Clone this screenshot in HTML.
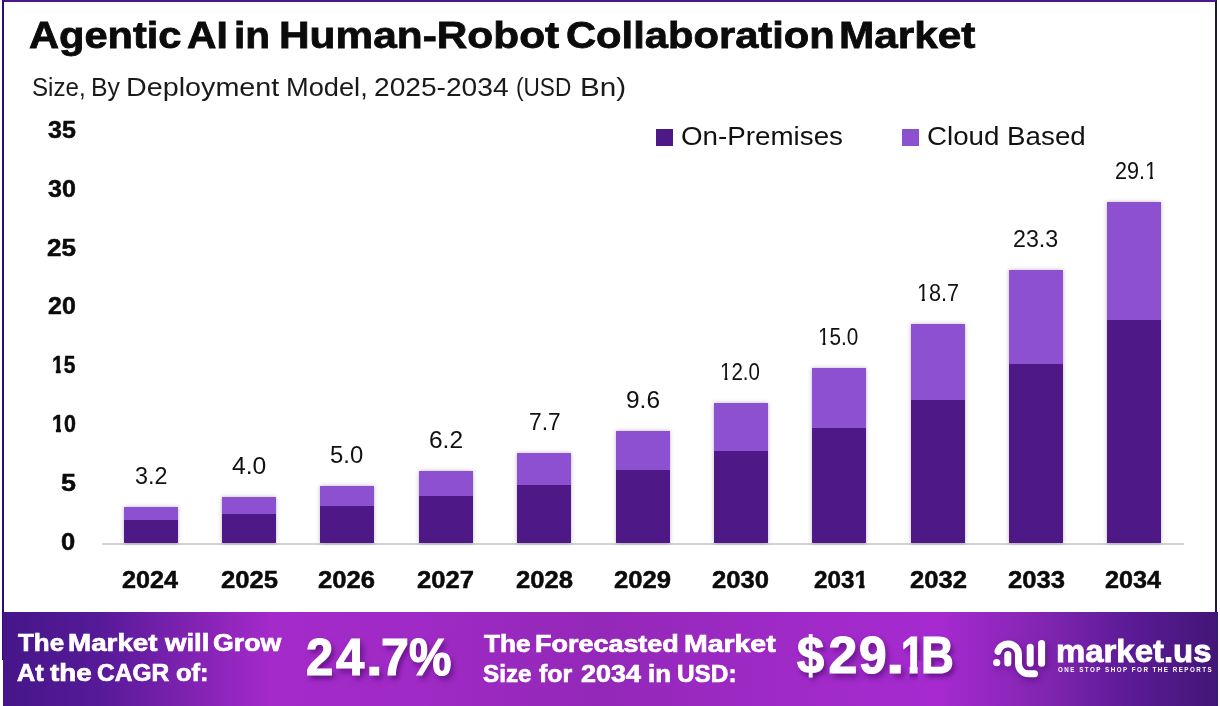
<!DOCTYPE html>
<html><head><meta charset="utf-8"><style>
html,body{margin:0;padding:0;}
body{width:1220px;height:706px;position:relative;overflow:hidden;background:#fff;font-family:"Liberation Sans",sans-serif;}
.t{position:absolute;line-height:1;white-space:nowrap;transform-origin:0 0;}
.frame{position:absolute;left:2px;top:0;width:1215px;height:660px;border:2px solid #3d1678;border-top-color:#4a1a8a;border-left-color:#2b0f6b;border-right-color:#25133f;border-bottom:none;box-sizing:border-box;}
.bar{position:absolute;background:#4e1886;box-shadow:0 0 4px rgba(60,40,80,.35);}
.bar .lt{background:#8c50d0;width:100%;}
.axis{position:absolute;left:102px;top:543px;width:1082px;height:2px;background:#d2d2d2;}
.sq{position:absolute;width:17px;height:17px;top:129px;}
.banner{position:absolute;left:3px;top:612px;width:1215px;height:94px;
background:linear-gradient(90deg,#451689 0%,#561a98 8%,#7e22b0 15%,#a42ac9 22%,#a02ac6 33%,#9328b8 49%,#a02ac8 66%,#a62ad0 77%,#8025b0 86%,#5a1a95 93%,#421676 100%);}
</style></head><body>
<div class="frame"></div>
<div class="axis"></div>
<div class="bar" style="left:124px;top:506.9px;width:54.2px;height:36.1px"><div class="lt" style="height:13.0px"></div></div>
<div class="bar" style="left:222.1px;top:497px;width:54.2px;height:46.0px"><div class="lt" style="height:16.8px"></div></div>
<div class="bar" style="left:319.8px;top:485.8px;width:54.2px;height:57.2px"><div class="lt" style="height:19.9px"></div></div>
<div class="bar" style="left:419px;top:470.8px;width:54.2px;height:72.2px"><div class="lt" style="height:25.0px"></div></div>
<div class="bar" style="left:517.3px;top:453px;width:54.2px;height:90.0px"><div class="lt" style="height:32.0px"></div></div>
<div class="bar" style="left:615.7px;top:431.1px;width:54.2px;height:111.9px"><div class="lt" style="height:38.9px"></div></div>
<div class="bar" style="left:713.7px;top:403px;width:54.2px;height:140.0px"><div class="lt" style="height:48.0px"></div></div>
<div class="bar" style="left:812px;top:368px;width:54.2px;height:175.0px"><div class="lt" style="height:59.5px"></div></div>
<div class="bar" style="left:911.2px;top:324.3px;width:54.2px;height:218.7px"><div class="lt" style="height:75.6px"></div></div>
<div class="bar" style="left:1009.2px;top:269.9px;width:54.2px;height:273.1px"><div class="lt" style="height:94.1px"></div></div>
<div class="bar" style="left:1107px;top:202px;width:54.2px;height:341.0px"><div class="lt" style="height:117.8px"></div></div>
<div class="sq" style="left:656px;background:#4e1886"></div>
<div class="sq" style="left:902px;background:#8c50d0"></div>
<div class="banner"></div>
<div class="t" style="left:29.09px;top:17.00px;font-size:37.54px;font-weight:700;color:#0b0b0b;transform:scaleX(1.1081);-webkit-text-stroke:0.8px #0b0b0b;">Agentic</div>
<div class="t" style="left:186.91px;top:17.00px;font-size:37.54px;font-weight:700;color:#0b0b0b;transform:scaleX(1.0853);-webkit-text-stroke:0.8px #0b0b0b;">AI</div>
<div class="t" style="left:234.04px;top:17.00px;font-size:37.54px;font-weight:700;color:#0b0b0b;transform:scaleX(1.0800);-webkit-text-stroke:0.8px #0b0b0b;">in</div>
<div class="t" style="left:278.64px;top:17.00px;font-size:37.54px;font-weight:700;color:#0b0b0b;transform:scaleX(1.1293);-webkit-text-stroke:0.8px #0b0b0b;">Human-Robot</div>
<div class="t" style="left:566.09px;top:17.00px;font-size:37.54px;font-weight:700;color:#0b0b0b;transform:scaleX(1.1113);-webkit-text-stroke:0.8px #0b0b0b;">Collaboration</div>
<div class="t" style="left:839.14px;top:17.00px;font-size:37.54px;font-weight:700;color:#0b0b0b;transform:scaleX(1.1277);-webkit-text-stroke:0.8px #0b0b0b;">Market</div>
<div class="t" style="left:31.72px;top:74.80px;font-size:25.65px;font-weight:400;color:#1a1a1a;transform:scaleX(0.9415);">Size,</div>
<div class="t" style="left:90.66px;top:74.80px;font-size:25.65px;font-weight:400;color:#1a1a1a;transform:scaleX(0.9679);">By</div>
<div class="t" style="left:126.06px;top:74.80px;font-size:25.65px;font-weight:400;color:#1a1a1a;transform:scaleX(1.1200);">Deployment</div>
<div class="t" style="left:285.98px;top:74.80px;font-size:25.65px;font-weight:400;color:#1a1a1a;transform:scaleX(1.0616);">Model,</div>
<div class="t" style="left:374.30px;top:74.80px;font-size:25.65px;font-weight:400;color:#1a1a1a;transform:scaleX(1.0975);">2025-2034</div>
<div class="t" style="left:516.24px;top:74.80px;font-size:25.65px;font-weight:400;color:#1a1a1a;transform:scaleX(0.8817);">(USD</div>
<div class="t" style="left:579.68px;top:74.80px;font-size:25.65px;font-weight:400;color:#1a1a1a;transform:scaleX(1.1583);">Bn)</div>
<div class="t" style="left:47.90px;top:118.00px;font-size:23.94px;font-weight:700;color:#0b0b0b;transform:scaleX(1.0462);-webkit-text-stroke:0.5px #0b0b0b;">35</div>
<div class="t" style="left:47.90px;top:176.82px;font-size:23.94px;font-weight:700;color:#0b0b0b;transform:scaleX(1.0462);-webkit-text-stroke:0.5px #0b0b0b;">30</div>
<div class="t" style="left:46.81px;top:235.64px;font-size:23.94px;font-weight:700;color:#0b0b0b;transform:scaleX(1.0880);-webkit-text-stroke:0.5px #0b0b0b;">25</div>
<div class="t" style="left:47.96px;top:294.46px;font-size:23.94px;font-weight:700;color:#0b0b0b;transform:scaleX(1.0440);-webkit-text-stroke:0.5px #0b0b0b;">20</div>
<div class="t" style="left:51.84px;top:353.28px;font-size:24.29px;font-weight:700;color:#0b0b0b;transform:scaleX(0.8615);-webkit-text-stroke:0.5px #0b0b0b;"><span style="display:inline-block;clip-path:polygon(-1em -1em,2em -1em,2em 0.6em,calc(0.375em + 1px) 0.6em,calc(0.375em + 1px) 2em,calc(0.225em - 1px) 2em,calc(0.225em - 1px) 0.6em,-1em 0.6em)">1</span>5</div>
<div class="t" style="left:51.80px;top:412.10px;font-size:23.94px;font-weight:700;color:#0b0b0b;transform:scaleX(0.8960);-webkit-text-stroke:0.5px #0b0b0b;"><span style="display:inline-block;clip-path:polygon(-1em -1em,2em -1em,2em 0.6em,calc(0.375em + 1px) 0.6em,calc(0.375em + 1px) 2em,calc(0.225em - 1px) 2em,calc(0.225em - 1px) 0.6em,-1em 0.6em)">1</span>0</div>
<div class="t" style="left:60.69px;top:470.92px;font-size:24.29px;font-weight:700;color:#0b0b0b;transform:scaleX(1.1083);-webkit-text-stroke:0.5px #0b0b0b;">5</div>
<div class="t" style="left:61.23px;top:529.74px;font-size:23.94px;font-weight:700;color:#0b0b0b;transform:scaleX(1.0667);-webkit-text-stroke:0.5px #0b0b0b;">0</div>
<div class="t" style="left:122.48px;top:567.60px;font-size:24.65px;font-weight:700;color:#0b0b0b;transform:scaleX(1.0222);-webkit-text-stroke:0.5px #0b0b0b;">2024</div>
<div class="t" style="left:220.56px;top:567.60px;font-size:24.65px;font-weight:700;color:#0b0b0b;transform:scaleX(1.0415);-webkit-text-stroke:0.5px #0b0b0b;">2025</div>
<div class="t" style="left:318.26px;top:567.60px;font-size:24.65px;font-weight:700;color:#0b0b0b;transform:scaleX(1.0415);-webkit-text-stroke:0.5px #0b0b0b;">2026</div>
<div class="t" style="left:417.46px;top:567.60px;font-size:24.65px;font-weight:700;color:#0b0b0b;transform:scaleX(1.0415);-webkit-text-stroke:0.5px #0b0b0b;">2027</div>
<div class="t" style="left:515.76px;top:567.60px;font-size:24.65px;font-weight:700;color:#0b0b0b;transform:scaleX(1.0415);-webkit-text-stroke:0.5px #0b0b0b;">2028</div>
<div class="t" style="left:614.16px;top:567.60px;font-size:24.65px;font-weight:700;color:#0b0b0b;transform:scaleX(1.0415);-webkit-text-stroke:0.5px #0b0b0b;">2029</div>
<div class="t" style="left:712.16px;top:567.60px;font-size:24.65px;font-weight:700;color:#0b0b0b;transform:scaleX(1.0415);-webkit-text-stroke:0.5px #0b0b0b;">2030</div>
<div class="t" style="left:813.52px;top:567.60px;font-size:24.65px;font-weight:700;color:#0b0b0b;transform:scaleX(0.9840);-webkit-text-stroke:0.5px #0b0b0b;">203<span style="display:inline-block;clip-path:polygon(-1em -1em,2em -1em,2em 0.6em,calc(0.375em + 1px) 0.6em,calc(0.375em + 1px) 2em,calc(0.225em - 1px) 2em,calc(0.225em - 1px) 0.6em,-1em 0.6em)">1</span></div>
<div class="t" style="left:909.66px;top:567.60px;font-size:24.65px;font-weight:700;color:#0b0b0b;transform:scaleX(1.0415);-webkit-text-stroke:0.5px #0b0b0b;">2032</div>
<div class="t" style="left:1007.66px;top:567.60px;font-size:24.65px;font-weight:700;color:#0b0b0b;transform:scaleX(1.0415);-webkit-text-stroke:0.5px #0b0b0b;">2033</div>
<div class="t" style="left:1105.48px;top:567.60px;font-size:24.65px;font-weight:700;color:#0b0b0b;transform:scaleX(1.0222);-webkit-text-stroke:0.5px #0b0b0b;">2034</div>
<div class="t" style="left:135.03px;top:463.80px;font-size:23.94px;font-weight:400;color:#111;transform:scaleX(0.9742);">3.2</div>
<div class="t" style="left:232.17px;top:453.90px;font-size:23.94px;font-weight:400;color:#111;transform:scaleX(1.0323);">4.0</div>
<div class="t" style="left:330.45px;top:442.70px;font-size:23.94px;font-weight:400;color:#111;transform:scaleX(0.9968);">5.0</div>
<div class="t" style="left:429.23px;top:427.70px;font-size:23.94px;font-weight:400;color:#111;transform:scaleX(1.0226);">6.2</div>
<div class="t" style="left:528.73px;top:409.90px;font-size:24.64px;font-weight:400;color:#111;transform:scaleX(0.9219);">7.7</div>
<div class="t" style="left:625.93px;top:388.00px;font-size:23.94px;font-weight:400;color:#111;transform:scaleX(1.0226);">9.6</div>
<div class="t" style="left:720.24px;top:359.90px;font-size:23.94px;font-weight:400;color:#111;transform:scaleX(0.8568);"><span style="display:inline-block;clip-path:polygon(-1em -1em,2em -1em,2em 0.6em,calc(0.345em + 0.5px) 0.6em,calc(0.345em + 0.5px) 2em,calc(0.24em - 0.5px) 2em,calc(0.24em - 0.5px) 0.6em,-1em 0.6em)">1</span>2.0</div>
<div class="t" style="left:818.32px;top:324.90px;font-size:23.94px;font-weight:400;color:#111;transform:scaleX(0.8659);"><span style="display:inline-block;clip-path:polygon(-1em -1em,2em -1em,2em 0.6em,calc(0.345em + 0.5px) 0.6em,calc(0.345em + 0.5px) 2em,calc(0.24em - 0.5px) 2em,calc(0.24em - 0.5px) 0.6em,-1em 0.6em)">1</span>5.0</div>
<div class="t" style="left:917.10px;top:281.20px;font-size:23.94px;font-weight:400;color:#111;transform:scaleX(0.9023);"><span style="display:inline-block;clip-path:polygon(-1em -1em,2em -1em,2em 0.6em,calc(0.345em + 0.5px) 0.6em,calc(0.345em + 0.5px) 2em,calc(0.24em - 0.5px) 2em,calc(0.24em - 0.5px) 0.6em,-1em 0.6em)">1</span>8.7</div>
<div class="t" style="left:1013.48px;top:226.80px;font-size:23.94px;font-weight:400;color:#111;transform:scaleX(0.9711);">23.3</div>
<div class="t" style="left:1114.70px;top:158.90px;font-size:23.94px;font-weight:400;color:#111;transform:scaleX(0.9024);">29.<span style="display:inline-block;clip-path:polygon(-1em -1em,2em -1em,2em 0.6em,calc(0.345em + 0.5px) 0.6em,calc(0.345em + 0.5px) 2em,calc(0.24em - 0.5px) 2em,calc(0.24em - 0.5px) 0.6em,-1em 0.6em)">1</span></div>
<div class="t" style="left:680.91px;top:123.90px;font-size:25.36px;font-weight:400;color:#111;transform:scaleX(1.0945);">On-Premises</div>
<div class="t" style="left:926.91px;top:123.90px;font-size:25.36px;font-weight:400;color:#111;transform:scaleX(1.0930);">Cloud Based</div>
<div class="t" style="left:17.50px;top:630.80px;font-size:24.64px;font-weight:700;color:#fff;transform:scaleX(1.0535);-webkit-text-stroke:0.7px #fff;">The</div>
<div class="t" style="left:67.97px;top:630.80px;font-size:24.64px;font-weight:700;color:#fff;transform:scaleX(1.1278);-webkit-text-stroke:0.7px #fff;">Market</div>
<div class="t" style="left:164.50px;top:630.80px;font-size:24.64px;font-weight:700;color:#fff;transform:scaleX(1.1184);-webkit-text-stroke:0.7px #fff;">will</div>
<div class="t" style="left:213.32px;top:630.80px;font-size:24.64px;font-weight:700;color:#fff;transform:scaleX(1.0839);-webkit-text-stroke:0.7px #fff;">Grow</div>
<div class="t" style="left:16.90px;top:660.70px;font-size:23.91px;font-weight:700;color:#fff;transform:scaleX(1.0560);-webkit-text-stroke:0.7px #fff;">At</div>
<div class="t" style="left:49.60px;top:660.70px;font-size:23.91px;font-weight:700;color:#fff;transform:scaleX(1.1629);-webkit-text-stroke:0.7px #fff;">the</div>
<div class="t" style="left:97.38px;top:660.70px;font-size:23.91px;font-weight:700;color:#fff;transform:scaleX(1.0246);-webkit-text-stroke:0.7px #fff;">CAGR</div>
<div class="t" style="left:176.03px;top:660.70px;font-size:23.91px;font-weight:700;color:#fff;transform:scaleX(1.0679);-webkit-text-stroke:0.7px #fff;">of:</div>
<div class="t" style="left:305.87px;top:630.70px;font-size:52.71px;font-weight:700;color:#fff;transform:scaleX(0.9296);-webkit-text-stroke:1.2px #fff;text-shadow:3px 4px 6px rgba(50,0,80,.55);">2</div>
<div class="t" style="left:336.10px;top:630.70px;font-size:52.71px;font-weight:700;color:#fff;transform:scaleX(0.9667);-webkit-text-stroke:1.2px #fff;text-shadow:3px 4px 6px rgba(50,0,80,.55);">4</div>
<div class="t" style="left:366.40px;top:630.70px;font-size:52.71px;font-weight:700;color:#fff;transform:scaleX(1.1333);-webkit-text-stroke:1.2px #fff;text-shadow:3px 4px 6px rgba(50,0,80,.55);">.</div>
<div class="t" style="left:381.00px;top:630.70px;font-size:52.71px;font-weight:700;color:#fff;transform:scaleX(0.9500);-webkit-text-stroke:1.2px #fff;text-shadow:3px 4px 6px rgba(50,0,80,.55);">7</div>
<div class="t" style="left:409.19px;top:630.70px;font-size:52.71px;font-weight:700;color:#fff;transform:scaleX(0.9067);-webkit-text-stroke:1.2px #fff;text-shadow:3px 4px 6px rgba(50,0,80,.55);">%</div>
<div class="t" style="left:484.20px;top:631.90px;font-size:24.2px;font-weight:700;color:#fff;transform:scaleX(1.0814);-webkit-text-stroke:0.7px #fff;">The</div>
<div class="t" style="left:534.89px;top:631.90px;font-size:24.2px;font-weight:700;color:#fff;transform:scaleX(1.1142);-webkit-text-stroke:0.7px #fff;">Forecasted</div>
<div class="t" style="left:684.12px;top:631.90px;font-size:24.2px;font-weight:700;color:#fff;transform:scaleX(1.1753);-webkit-text-stroke:0.7px #fff;">Market</div>
<div class="t" style="left:483.22px;top:662.00px;font-size:24.64px;font-weight:700;color:#fff;transform:scaleX(0.9833);-webkit-text-stroke:0.7px #fff;">Size</div>
<div class="t" style="left:539.30px;top:662.00px;font-size:24.64px;font-weight:700;color:#fff;transform:scaleX(1.0121);-webkit-text-stroke:0.7px #fff;">for</div>
<div class="t" style="left:580.60px;top:662.00px;font-size:24.64px;font-weight:700;color:#fff;transform:scaleX(1.0927);-webkit-text-stroke:0.7px #fff;">2034</div>
<div class="t" style="left:648.25px;top:662.00px;font-size:24.64px;font-weight:700;color:#fff;transform:scaleX(1.0450);-webkit-text-stroke:0.7px #fff;">in</div>
<div class="t" style="left:676.51px;top:662.00px;font-size:24.64px;font-weight:700;color:#fff;transform:scaleX(0.9895);-webkit-text-stroke:0.7px #fff;">USD:</div>
<div class="t" style="left:797.20px;top:629.70px;font-size:51.86px;font-weight:700;color:#fff;transform:scaleX(0.9414);-webkit-text-stroke:1.2px #fff;text-shadow:3px 4px 6px rgba(50,0,80,.55);">$</div>
<div class="t" style="left:828.50px;top:629.70px;font-size:51.86px;font-weight:700;color:#fff;transform:scaleX(1.0000);-webkit-text-stroke:1.2px #fff;text-shadow:3px 4px 6px rgba(50,0,80,.55);">2</div>
<div class="t" style="left:859.24px;top:629.70px;font-size:51.86px;font-weight:700;color:#fff;transform:scaleX(0.9577);-webkit-text-stroke:1.2px #fff;text-shadow:3px 4px 6px rgba(50,0,80,.55);">9</div>
<div class="t" style="left:886.04px;top:629.70px;font-size:51.86px;font-weight:700;color:#fff;transform:scaleX(1.2875);-webkit-text-stroke:1.2px #fff;text-shadow:3px 4px 6px rgba(50,0,80,.55);">.</div>
<div class="t" style="left:900.77px;top:629.70px;font-size:51.86px;font-weight:700;color:#fff;transform:scaleX(0.8111);-webkit-text-stroke:1.2px #fff;text-shadow:3px 4px 6px rgba(50,0,80,.55);"><span style="display:inline-block;clip-path:polygon(-1em -1em,2em -1em,2em 0.6em,calc(0.375em + 1px) 0.6em,calc(0.375em + 1px) 2em,calc(0.225em - 1px) 2em,calc(0.225em - 1px) 0.6em,-1em 0.6em)">1</span></div>
<div class="t" style="left:921.17px;top:629.70px;font-size:51.86px;font-weight:700;color:#fff;transform:scaleX(0.8758);-webkit-text-stroke:1.2px #fff;text-shadow:3px 4px 6px rgba(50,0,80,.55);">B</div>
<div class="t" style="left:1055.96px;top:636.60px;font-size:30.75px;font-weight:700;color:#fff;transform:scaleX(1.0699);-webkit-text-stroke:0.8px #fff;">market.us</div>
<div class="t" style="left:1058.10px;top:666.80px;font-size:6.38px;font-weight:700;color:#fff;transform:scaleX(0.9808);letter-spacing:1.5px;">ONE STOP SHOP FOR THE REPORTS</div>
<svg style="position:absolute;left:985px;top:630px;filter:drop-shadow(2px 3px 3px rgba(50,0,80,.45))" width="70" height="55" viewBox="0 0 70 55">
<g fill="none" stroke="#fff" stroke-width="7" stroke-linecap="round">
<path d="M12.97 21.4 A10.5 10.5 0 0 1 33.5 24.1 V33.8 A10 10 0 0 0 43.5 43.8 H49.5"/>
<path d="M22.8 24.5 V33.1"/>
<path d="M45.2 17.2 V33.2"/>
<path d="M56.6 13.6 V33.2"/>
</g>
<circle cx="11.7" cy="32.7" r="3.6" fill="#fff"/>
</svg>
</body></html>
